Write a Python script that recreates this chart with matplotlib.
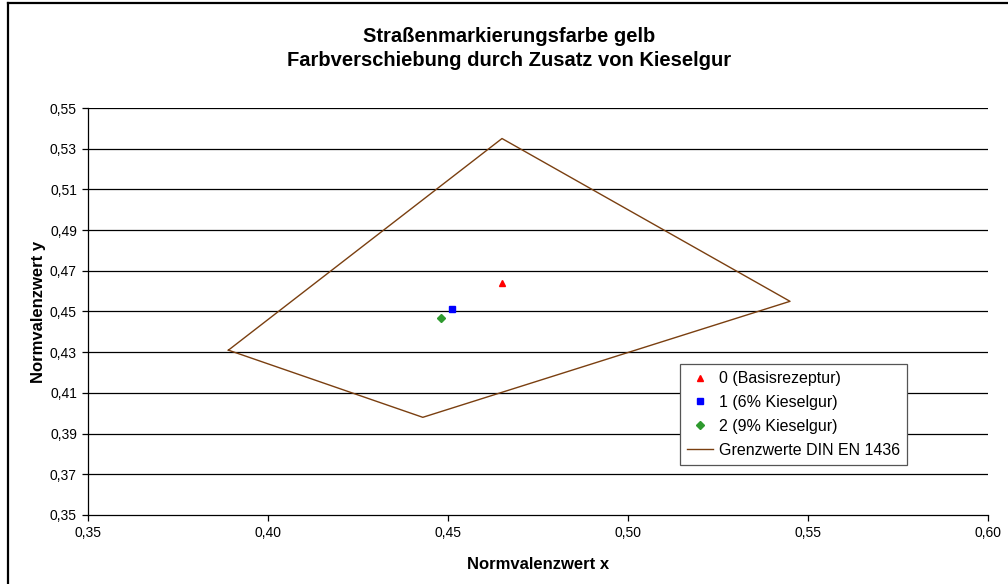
import numpy as np
import matplotlib.pyplot as plt
from matplotlib.lines import Line2D
from matplotlib.ticker import FuncFormatter

plt.rcParams['font.family'] = ['Liberation Sans', 'DejaVu Sans']

# Messwerte (Normvalenzwerte x / y)
labels = ['0 (Basisrezeptur)', '1 (6% Kieselgur)', '2 (9% Kieselgur)']
x_vals = [0.465, 0.451, 0.448]
y_vals = [0.464, 0.451, 0.447]

# Grenzwerte DIN EN 1436 (Eckpunkte, geschlossen)
din_x = [0.389, 0.465, 0.545, 0.443, 0.389]
din_y = [0.431, 0.535, 0.455, 0.398, 0.431]

x_ticks = [0.35, 0.40, 0.45, 0.50, 0.55, 0.60]
y_ticks = [0.35, 0.37, 0.39, 0.41, 0.43, 0.45, 0.47, 0.49, 0.51, 0.53, 0.55]

fig = plt.figure(figsize=(10.08, 5.84), dpi=100)
ax = fig.add_axes([88 / 1008, 1 - 515 / 584, 900 / 1008, 407 / 584])

# horizontale Gitterlinien
for yv in y_ticks[1:]:
    ax.axhline(yv, color='black', lw=0.9, zorder=1)

ax.plot(din_x, din_y, color='#7a3f10', lw=1.0, zorder=2)

markers = ['^', 's', 'D']
colors = ['#ff0000', '#0000ff', '#2e9a2e']
sizes = [5, 4.5, 4.5]
for xv, yv, m, c, s in zip(x_vals, y_vals, markers, colors, sizes):
    ax.plot([xv], [yv], marker=m, color=c, ms=s, ls='none', zorder=3)

ax.set_xlim(0.35, 0.60)
ax.set_ylim(0.35, 0.55)
ax.set_xticks(x_ticks)
ax.set_yticks(y_ticks)
fmt = FuncFormatter(lambda v, p: f'{v:.2f}'.replace('.', ','))
ax.xaxis.set_major_formatter(fmt)
ax.yaxis.set_major_formatter(fmt)
ax.tick_params(labelsize=10, length=4, width=0.9, direction='out', pad=4)
for side in ['top', 'right']:
    ax.spines[side].set_visible(False)
for side in ['left', 'bottom']:
    ax.spines[side].set_linewidth(0.9)

ax.set_xlabel('Normvalenzwert x', fontsize=12, fontweight='bold', labelpad=12)
ax.set_ylabel('Normvalenzwert y', fontsize=12, fontweight='bold', labelpad=3)

fig.text(0.505, 1 - 37 / 584, 'Straßenmarkierungsfarbe gelb',
         ha='center', va='center', fontsize=14.5, fontweight='bold')
fig.text(0.505, 1 - 61 / 584, 'Farbverschiebung durch Zusatz von Kieselgur',
         ha='center', va='center', fontsize=14.5, fontweight='bold')

handles = [Line2D([], [], marker=m, color=c, ms=s, ls='none')
           for m, c, s in zip(markers, colors, sizes)]
handles.append(Line2D([], [], color='#7a3f10', lw=1.0))
leg = ax.legend(handles, labels + ['Grenzwerte DIN EN 1436'],
                loc='upper left', bbox_to_anchor=(680 / 1008, 1 - 364 / 584),
                bbox_transform=fig.transFigure, fontsize=11.5, frameon=True,
                fancybox=False, edgecolor='#555555', framealpha=1,
                handlelength=1.6, handletextpad=0.4, borderpad=0.45,
                labelspacing=0.55, borderaxespad=0)
leg.get_frame().set_linewidth(0.9)

# Rahmen des Diagrammbereichs (oben und links sichtbar)
fig.add_artist(Line2D([7.5 / 1008, 7.5 / 1008], [0, 1 - 2.5 / 584], transform=fig.transFigure,
                      color='black', lw=1.6))
fig.add_artist(Line2D([7.5 / 1008, 1], [1 - 3 / 584, 1 - 3 / 584], transform=fig.transFigure,
                      color='black', lw=1.6))

fig.savefig('out.png', dpi=100)
